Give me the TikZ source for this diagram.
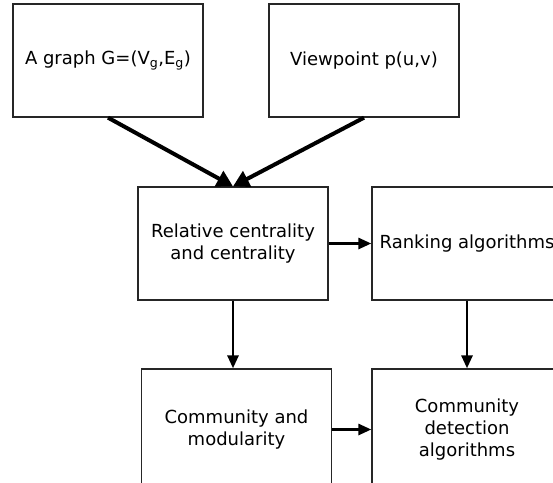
\documentclass[tikz,border=0pt]{standalone}
\usepackage{fontspec}
\setmainfont{DejaVu Sans}
\usepackage{tikz}
\usetikzlibrary{arrows.meta, positioning, calc}
\definecolor{fline}{HTML}{262626}
\tikzset{
  fbox/.style={draw=fline, line width=1.3pt, fill=white,
               minimum width=190pt, minimum height=113pt,
               align=center, font=\fontsize{18}{22}\selectfont, inner sep=2pt},
  bigarr/.style={-{Triangle[length=16pt, width=17pt]}, line width=4pt, black},
  arr/.style={-{Triangle[length=13pt, width=11pt]}, line width=2.8pt, black},
}

\begin{document}
\begin{tikzpicture}[x=1pt, y=-1pt]
  \useasboundingbox (0,0) rectangle (553,482);
  \clip (0,0) rectangle (553,482);
  % inputs
  \node[fbox] (graph) at (108,60.5) {A graph G=(V\textsubscript{g},E\textsubscript{g})};
  \node[fbox] (view)  at (364,60.5) {Viewpoint p(u,v)};
  % measures and algorithms
  \node[fbox] (rel)   at (233,243.5) {Relative centrality\\and centrality};
  \node[fbox] (rank)  at (467,243.5) {Ranking algorithms};
  % bottom row runs off the lower edge
  \node[fbox, minimum height=121pt] (comm) at (236.5,429.5) {Community and\\modularity};
  \node[fbox, minimum height=121pt] (cda)  at (467,429.5)   {Community\\detection\\algorithms};

  \draw[bigarr] (graph.south) -- (rel.north);
  \draw[bigarr] (view.south) -- (rel.north);
  \draw[arr] (rel.east) -- (rank.west);
  \draw[arr] (rel.south) -- (rel.south |- comm.north);
  \draw[arr] (rank.south) -- (cda.north);
  \draw[arr] (comm.east) -- (cda.west);
\end{tikzpicture}
\end{document}
